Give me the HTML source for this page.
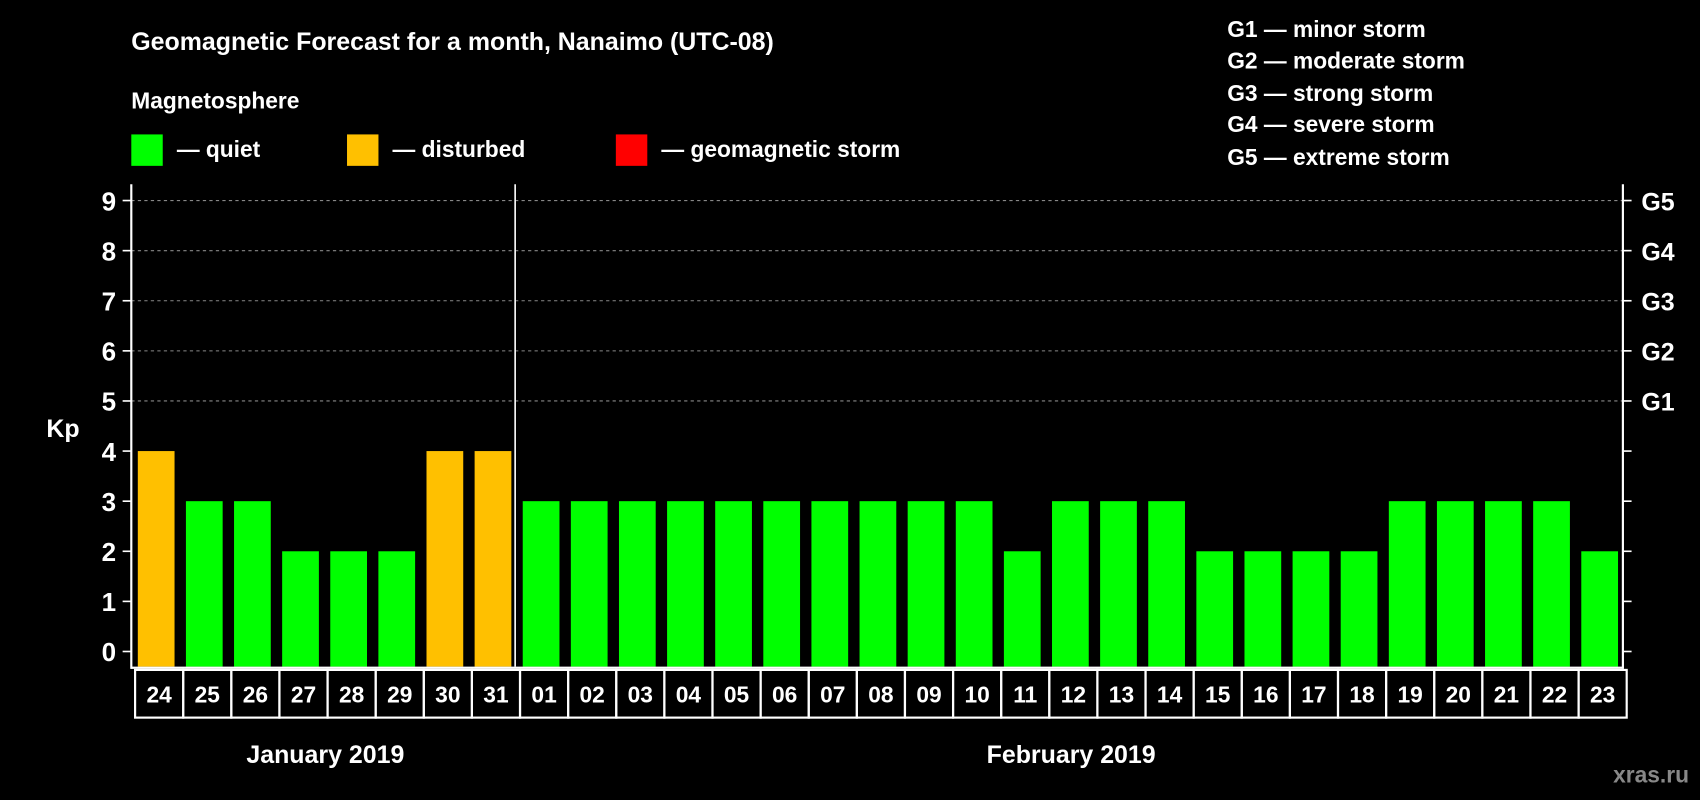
<!DOCTYPE html>
<html><head><meta charset="utf-8"><style>
html,body{margin:0;padding:0;background:#000;}
svg{display:block;font-family:"Liberation Sans",Arial,sans-serif;font-weight:bold;}
</style></head><body>
<svg id="chart" width="1700" height="800" viewBox="0 0 1568 738" xmlns="http://www.w3.org/2000/svg">
<rect x="0" y="0" width="1568" height="738" fill="#000"/>
<text x="121" y="46" fill="#fff" font-size="23">Geomagnetic Forecast for a month, Nanaimo (UTC-08)</text>
<text x="121" y="100" fill="#fff" font-size="21">Magnetosphere</text>
<g><rect x="121" y="124" width="29" height="29" fill="#00ff00"/><text x="163" y="145" fill="#fff" font-size="21">— quiet</text></g>
<g><rect x="320" y="124" width="29" height="29" fill="#ffc000"/><text x="362" y="145" fill="#fff" font-size="21">— disturbed</text></g>
<g><rect x="568" y="124" width="29" height="29" fill="#ff0000"/><text x="610" y="145" fill="#fff" font-size="21">— geomagnetic storm</text></g>
<g fill="#fff" font-size="21">
<text x="1132" y="34">G1 — minor storm</text>
<text x="1132" y="63">G2 — moderate storm</text>
<text x="1132" y="93">G3 — strong storm</text>
<text x="1132" y="122">G4 — severe storm</text>
<text x="1132" y="152">G5 — extreme storm</text>
</g>
<text x="58" y="403" fill="#fff" font-size="23" text-anchor="middle">Kp</text>
<g id="grid"></g><g id="bars"></g><g id="axes"></g><g id="dates"></g>
<text x="300" y="704" fill="#fff" font-size="23" text-anchor="middle">January 2019</text>
<text x="988" y="704" fill="#fff" font-size="23" text-anchor="middle">February 2019</text>
<text x="1558" y="722" fill="#888" font-size="21" text-anchor="end">xras.ru</text>
</svg>
<script>
const days = ["24","25","26","27","28","29","30","31","01","02","03","04","05","06","07","08","09","10","11","12","13","14","15","16","17","18","19","20","21","22","23"];
const kpValues = [4,3,3,2,2,2,4,4,3,3,3,3,3,3,3,3,3,3,2,3,3,3,2,2,2,2,3,3,3,3,2];
const yTicks = [0,1,2,3,4,5,6,7,8,9];
const gLabels = ["G1","G2","G3","G4","G5"];
const gLevels = [5,6,7,8,9];

const NS="http://www.w3.org/2000/svg";
const L=121,R=1497,T=170,B=615;
const step=(R-L)/days.length;
const y=v=>601-v*(601-185)/9;
const x=i=>L+i*step;
function mk(tag,attrs,parent){const e=document.createElementNS(NS,tag);for(const k in attrs)e.setAttribute(k,attrs[k]);parent.appendChild(e);return e;}
const grid=document.getElementById('grid'),bars=document.getElementById('bars'),axes=document.getElementById('axes'),dates=document.getElementById('dates');
gLevels.forEach((lv,i)=>{
  const ln=mk('line',{x1:L,x2:R,y1:y(lv),y2:y(lv),stroke:'#888','stroke-dasharray':'3,3','stroke-width':1},grid);
  
  
  const t=mk('text',{x:1514,y:y(lv)+9,fill:'#fff','font-size':23},axes);t.textContent=gLabels[i];
  
  
});
kpValues.forEach((v,i)=>{
  const c=v>=5?'#ff0000':(v>=4?'#ffc000':'#00ff00');
  const r=mk('rect',{x:x(i)+6,y:y(v),width:step-10.5,height:B-y(v),fill:c},bars);
  
  
});
mk('line',{x1:L,x2:L,y1:T,y2:B+2,stroke:'#fff','stroke-width':2},axes);
mk('line',{x1:R,x2:R,y1:T,y2:B+2,stroke:'#fff','stroke-width':2},axes);
mk('line',{x1:L,x2:R,y1:B+1,y2:B+1,stroke:'#fff','stroke-width':2},axes);
mk('line',{x1:x(8)-1,x2:x(8)-1,y1:T,y2:B,stroke:'#fff','stroke-width':1.5},axes);
yTicks.forEach(v=>{
  mk('line',{x1:L-8,x2:L,y1:y(v),y2:y(v),stroke:'#fff','stroke-width':1.5},axes);
  mk('line',{x1:R,x2:R+8,y1:y(v),y2:y(v),stroke:'#fff','stroke-width':1.5},axes);
  const t=mk('text',{x:L-14,y:y(v)+9,fill:'#fff','font-size':24,'text-anchor':'end'},axes);t.textContent=v;
  
  
});
days.forEach((d,i)=>{
  const bx=x(i)+3.5;
  const r=mk('rect',{x:bx,y:B+3,width:step,height:44,fill:'none',stroke:'#fff','stroke-width':2},dates);
  
  
  const t=mk('text',{x:bx+step/2,y:B+33,fill:'#fff','font-size':21,'text-anchor':'middle'},dates);t.textContent=d;
  
  
});
</script>
</body></html>
